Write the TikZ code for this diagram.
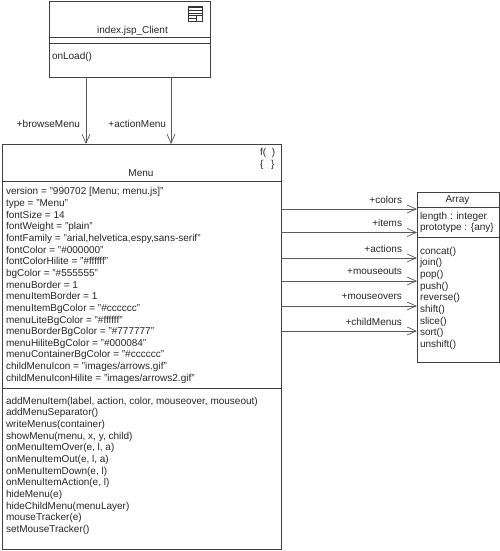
\documentclass[tikz,border=0pt]{standalone}
\usepackage{fontspec}
\setmainfont{Liberation Sans}
\usetikzlibrary{arrows.meta,positioning}

\begin{document}
\begin{tikzpicture}[
        x=1pt, y=1pt,
        every node/.style={font=\fontsize{10}{11.66}\selectfont, text=black!85, inner sep=0pt, outer sep=0pt},
        umlbox/.style={draw=black!75, line width=.8pt, rectangle, anchor=north west},
        rowtext/.style={align=left, anchor=north west},
        rolename/.style={anchor=east},
        assoc/.style={draw=black!65, line width=.8pt, -{Straight Barb[length=9pt,width=8pt,line width=.7pt]}},
        sep/.style={draw=black!75, line width=.8pt}
    ]
    \useasboundingbox (0,0) rectangle (500,-551);

    % Client class
    \node (client)[umlbox, minimum width=160.5pt, minimum height=76pt] at (49.5,-1) {};
    \node (clientname) at (132.5,-30.5) {index.jsp\_Client};
    \node (clientops)[rowtext] at (52,-52.5) {onLoad()};
    \draw[sep] (49.5,-37.5) -- (210,-37.5);
    \draw[sep] (49.5,-43) -- (210,-43);

    % Page icon
    \node (icon)[draw=black!80, line width=.6pt, minimum width=14pt, minimum height=15pt, anchor=north west] at (188.5,-6) {};
    \draw[line width=1.6pt, black!80] (icon.north west) ++(0,-1) -- ++(14,0);
    \draw[line width=.5pt, black!80] (189,-10.5) -- (202,-10.5) (189,-13) -- (202,-13) (189,-15.5) -- (196,-15.5) (189,-18) -- (196,-18);
    \draw[line width=.5pt, black!80] (196,-15) rectangle (202,-21);

    % Menu class
    \node (menu)[umlbox, minimum width=279pt, minimum height=405pt] at (2,-144) {};
    \node (menuname) at (141,-173.5) {Menu};
    \node (fn1)[anchor=west] at (260,-152.5) {f(\hspace{3pt} )};
    \node (fn2)[anchor=west] at (260,-165) {\{\hspace{5pt} \}};
    \draw[sep] (2,-181) -- (281,-181);
    \draw[sep] (2,-388) -- (281,-388);
    \node (menuattrs)[rowtext] at (6,-187.5) {version = "990702 [Menu; menu.js]"\\
        type = "Menu"\\
        fontSize = 14\\
        fontWeight = "plain"\\
        fontFamily = "arial,helvetica,espy,sans-serif"\\
        fontColor = "\#000000"\\
        fontColorHilite = "\#ffffff"\\
        bgColor = "\#555555"\\
        menuBorder = 1\\
        menuItemBorder = 1\\
        menuItemBgColor = "\#cccccc"\\
        menuLiteBgColor = "\#ffffff"\\
        menuBorderBgColor = "\#777777"\\
        menuHiliteBgColor = "\#000084"\\
        menuContainerBgColor = "\#cccccc"\\
        childMenuIcon = "images/arrows.gif"\\
        childMenuIconHilite = "images/arrows2.gif"};
    \node (menuops)[rowtext] at (6,-397) {addMenuItem(label, action, color, mouseover, mouseout)\\
        addMenuSeparator()\\
        writeMenus(container)\\
        showMenu(menu, x, y, child)\\
        onMenuItemOver(e, l, a)\\
        onMenuItemOut(e, l, a)\\
        onMenuItemDown(e, l)\\
        onMenuItemAction(e, l)\\
        hideMenu(e)\\
        hideChildMenu(menuLayer)\\
        mouseTracker(e)\\
        setMouseTracker()};

    % Array class
    \node (array)[umlbox, minimum width=82pt, minimum height=169.5pt] at (417,-192.5) {};
    \node (arrayname) at (457.5,-200.5) {Array};
    \draw[sep] (417,-207.5) -- (499,-207.5);
    \draw[sep] (417,-237) -- (499,-237);
    \node (arrayattrs)[rowtext] at (420,-212) {length : integer\\ prototype : \{any\}};
    \node (arrayops)[rowtext] at (420,-247) {concat()\\ join()\\ pop()\\ push()\\ reverse()\\ shift()\\ slice()\\ sort()\\ unshift()};

    % Role names
    \node (browse)[rolename] at (80,-124) {+browseMenu};
    \node (action)[rolename] at (166,-124) {+actionMenu};
    \node (colors)[rolename] at (402,-199.5) {+colors};
    \node (items)[rolename] at (402,-223) {+items};
    \node (actions)[rolename] at (402,-248.5) {+actions};
    \node (mouseouts)[rolename] at (402,-271.5) {+mouseouts};
    \node (mouseovers)[rolename] at (402,-296.5) {+mouseovers};
    \node (childmenus)[rolename] at (402,-321.5) {+childMenus};

    % Edges
    \coordinate (b) at (86,-100);
    \coordinate (a) at (171,-100);
    \draw[assoc] (client.south -| b) -- (menu.north -| b);
    \draw[assoc] (client.south -| a) -- (menu.north -| a);

    \coordinate (c1) at (300,-209);
    \coordinate (c2) at (300,-232.5);
    \coordinate (c3) at (300,-258);
    \coordinate (c4) at (300,-281);
    \coordinate (c5) at (300,-306);
    \coordinate (c6) at (300,-331);
    \draw[assoc] (menu.east |- c1) -- (array.west |- c1);
    \draw[assoc] (menu.east |- c2) -- (array.west |- c2);
    \draw[assoc] (menu.east |- c3) -- (array.west |- c3);
    \draw[assoc] (menu.east |- c4) -- (array.west |- c4);
    \draw[assoc] (menu.east |- c5) -- (array.west |- c5);
    \draw[assoc] (menu.east |- c6) -- (array.west |- c6);
\end{tikzpicture}
\end{document}
